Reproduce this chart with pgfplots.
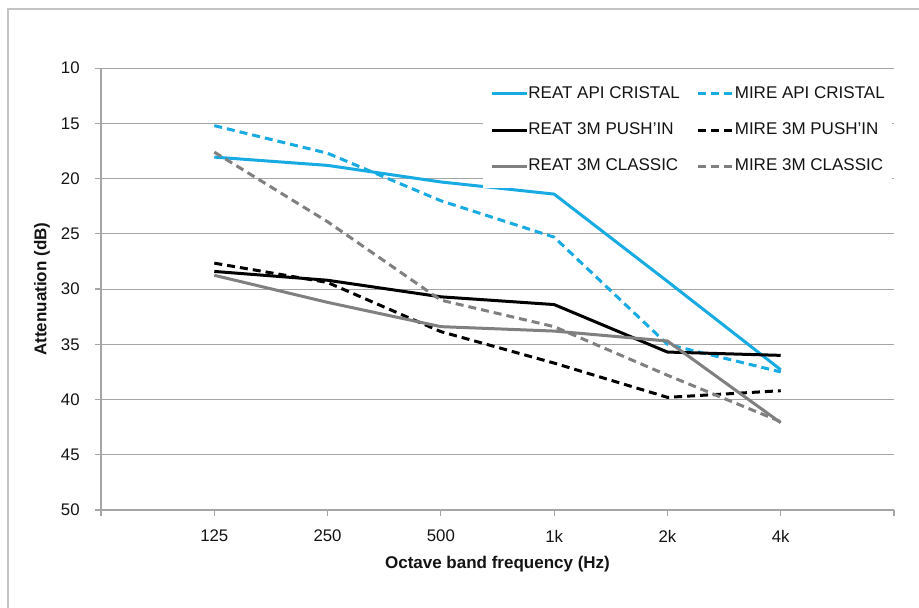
\documentclass[border=0pt]{standalone}
\usepackage{pgfplots}
\pgfplotsset{compat=1.18}
\usepackage{fontspec}
\setmainfont{Liberation Sans}
\definecolor{cblue}{RGB}{24,170,226}
\definecolor{cgrey}{RGB}{128,128,128}
\definecolor{gridc}{RGB}{165,165,165}
\definecolor{framec}{RGB}{195,195,195}
\definecolor{txt}{RGB}{20,20,20}
\begin{document}
\fontsize{8.5}{10}\selectfont
\begin{tikzpicture}
\useasboundingbox (0,0) rectangle (459.5pt,304pt);
\fill[white] (0,0) rectangle (459.5pt,304pt);
\draw[framec, line width=0.8pt] (4pt,0) -- (4pt,299.5pt) -- (459.5pt,299.5pt);
\begin{axis}[
  at={(50.5pt,49pt)}, anchor=south west,
  scale only axis, width=396.5pt, height=220.9pt,
  xmin=-1, xmax=6, ymin=10, ymax=50, y dir=reverse,
  xtick={-1,0,1,2,3,4,5,6},
  xticklabels={,125,250,500,1k,2k,4k,},
  ytick={10,15,...,50},
  axis lines*=left,
  axis line style={gridc, line width=0.6pt, -},
  tick style={gridc, line width=0.6pt},
  tick align=outside,
  major tick length=3pt,
  ymajorgrids, grid style={gridc, line width=0.5pt},
  /pgf/number format/assume math mode=true,
  tick label style={font=\fontsize{8.4}{10}\selectfont, text=txt, inner sep=0pt},
  xticklabel style={anchor=center, yshift=-10pt},
  yticklabel style={anchor=east, xshift=-7.5pt},
  xlabel={\textbf{Octave band frequency (Hz)}},
  ylabel={\textbf{Attenuation (dB)}},
  xlabel style={at={(axis description cs:0.5,-0.122)}, anchor=center, font=\fontsize{8.5}{10}\selectfont, text=txt},
  ylabel style={at={(axis description cs:-0.0745,0.5)}, anchor=center, rotate=0, font=\fontsize{8.5}{10}\selectfont, text=txt},
  legend columns=2,
  legend cell align=left,
  legend image code/.code={\draw[#1] (0pt,0pt) -- (17.5pt,0pt);},
  legend style={at={(rel axis cs:0.4817,0.9916)}, anchor=north west,
    draw=none, fill=white, inner xsep=3.5pt, inner ysep=6.8pt,
    font=\fontsize{8.5}{10}\selectfont, text=txt,
    nodes={inner sep=0pt, text height=6.2pt, text depth=1.8pt},
    row sep=10.15pt,
    /tikz/every even column/.append style={column sep=8.5pt}},
  every axis plot/.append style={line width=1.5pt, line join=round},
]
\addplot[cblue] coordinates {(0,18.05) (1,18.8) (2,20.3) (3,21.4) (4,29.3) (5,37.3)};
\addlegendentry{REAT API CRISTAL}
\addplot[cblue, dash pattern=on 4pt off 2.5pt] coordinates {(0,15.2) (1,17.7) (2,22.0) (3,25.3) (4,35.0) (5,37.5)};
\addlegendentry{MIRE API CRISTAL}
\addplot[black] coordinates {(0,28.4) (1,29.2) (2,30.7) (3,31.4) (4,35.7) (5,36.0)};
\addlegendentry{REAT 3M PUSH'IN}
\addplot[black, dash pattern=on 4pt off 2.5pt] coordinates {(0,27.65) (1,29.4) (2,33.85) (3,36.7) (4,39.8) (5,39.2)};
\addlegendentry{MIRE 3M PUSH'IN}
\addplot[cgrey] coordinates {(0,28.75) (1,31.2) (2,33.4) (3,33.8) (4,34.7) (5,42.1)};
\addlegendentry{REAT 3M CLASSIC}
\addplot[cgrey, dash pattern=on 4pt off 2.5pt] coordinates {(0,17.6) (1,23.9) (2,31.0) (3,33.4) (4,37.8) (5,42.0)};
\addlegendentry{MIRE 3M CLASSIC}
\end{axis}
\end{tikzpicture}
\end{document}
